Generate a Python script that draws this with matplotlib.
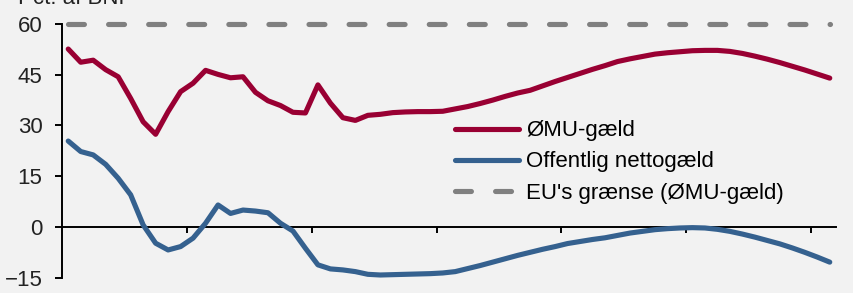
import matplotlib
matplotlib.use("Agg")
import matplotlib.pyplot as plt
from matplotlib.ticker import FixedLocator, NullFormatter

plt.rcParams['font.family'] = ['Liberation Sans', 'DejaVu Sans']

# ---- data ----
periods = list(range(62))  # annual observations, x labels not shown in the reference

omu_gaeld = [52.6, 48.7, 49.3, 46.5, 44.4, 38.0, 31.1, 27.4, 34.1, 40.0,
             42.5, 46.3, 45.1, 44.1, 44.4, 39.8, 37.3, 35.9, 33.9, 33.7,
             42.0, 36.6, 32.3, 31.5, 33.0, 33.3, 33.8, 34.0, 34.1, 34.1,
             34.2, 34.9, 35.6, 36.5, 37.5, 38.6, 39.6, 40.4, 41.7, 43.0,
             44.2, 45.4, 46.6, 47.7, 48.9, 49.7, 50.4, 51.1, 51.5, 51.8,
             52.1, 52.2, 52.2, 51.9, 51.3, 50.5, 49.6, 48.6, 47.5, 46.4,
             45.2, 44.0]

nettogaeld = [25.4, 22.3, 21.3, 18.5, 14.4, 9.5, 0.6, -4.8, -6.8, -5.8,
              -3.3, 1.1, 6.5, 4.0, 5.0, 4.7, 4.2, 1.1, -1.2, -6.3,
              -11.2, -12.4, -12.7, -13.2, -14.0, -14.2, -14.1, -14.0, -13.9, -13.8,
              -13.6, -13.2, -12.3, -11.4, -10.4, -9.4, -8.4, -7.5, -6.6, -5.8,
              -4.9, -4.3, -3.7, -3.2, -2.5, -1.8, -1.3, -0.8, -0.5, -0.3,
              -0.2, -0.3, -0.7, -1.3, -2.1, -3.0, -4.0, -5.0, -6.2, -7.5,
              -8.9, -10.4]

eu_graense = [60.0] * 62

labels = ["ØMU-gæld", "Offentlig nettogæld", "EU's grænse (ØMU-gæld)"]
y_ticks = [-15, 0, 15, 30, 45, 60]
unit_label = "Pct. af BNP"

# ---- styling ----
BG = "#F2F2F2"
RED = "#990033"
BLUE = "#35618F"
GRAY = "#808080"
TXT = "#222222"
W, H = 854, 293
FS = 16

fig = plt.figure(figsize=(W / 100, H / 100), dpi=100, facecolor=BG)
ax = fig.add_axes([62 / W, (H - 277.7) / H, (836 - 62) / W, (277.7 - 24) / H])
ax.set_facecolor(BG)

lw = 3.7
ax.plot(periods, omu_gaeld, color=RED, lw=lw, solid_capstyle='round',
        solid_joinstyle='round', label=labels[0], clip_on=False, zorder=3)
ax.plot(periods, nettogaeld, color=BLUE, lw=lw, solid_capstyle='round',
        solid_joinstyle='round', label=labels[1], clip_on=False, zorder=3)
ax.plot(periods, eu_graense, color=GRAY, lw=lw, dashes=(3.1, 4.7),
        dash_capstyle='round', label=labels[2], clip_on=False, zorder=3)

ax.set_xlim(-0.5, len(periods) - 0.5)
ax.set_ylim(-15, 60)

ax.spines['top'].set_visible(False)
ax.spines['right'].set_visible(False)
ax.spines['bottom'].set_position(('data', 0))
for s in ('left', 'bottom'):
    ax.spines[s].set_linewidth(1.4)
    ax.spines[s].set_color('black')

ax.set_yticks(y_ticks)
ax.tick_params(axis='y', direction='out', length=5, width=1.4, pad=9,
               labelsize=FS, labelcolor=TXT)
ax.xaxis.set_major_locator(FixedLocator([9.5, 19.5, 29.5, 39.5, 49.5, 59.5]))
ax.xaxis.set_major_formatter(NullFormatter())
ax.tick_params(axis='x', direction='out', length=4.3, width=1.4)

leg = ax.legend(loc='center left', bbox_to_anchor=(455.5 / W, (H - 162) / H),
                bbox_transform=fig.transFigure, frameon=False, fontsize=FS,
                handlelength=2.88, handletextpad=0.3, labelspacing=0.46,
                borderpad=0, borderaxespad=0)
for t in leg.get_texts():
    t.set_color('black')

fig.text(18 / W, 1 - 3.5 / H, unit_label, ha='left', va='baseline',
         fontsize=FS, color=TXT)

fig.savefig("out.png", dpi=100, facecolor=BG)
